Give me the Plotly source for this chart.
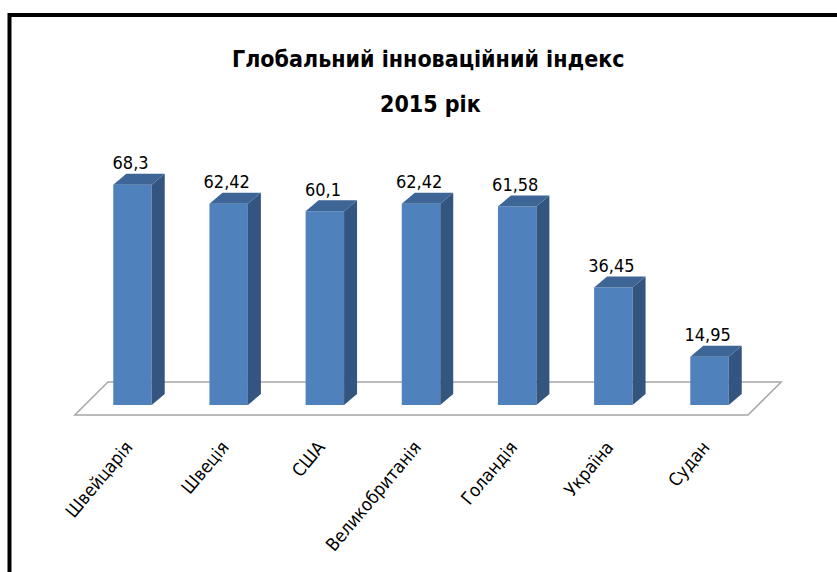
import plotly.graph_objects as go

categories = ["Швейцарія", "Швеція", "США", "Великобританія", "Голандія", "Україна", "Судан"]
values = [68.3, 62.42, 60.1, 62.42, 61.58, 36.45, 14.95]
value_labels = ["68,3", "62,42", "60,1", "62,42", "61,58", "36,45", "14,95"]
title_line1 = "Глобальний інноваційний індекс"
title_line2 = "2015 рік"

FONT = "Liberation Sans Narrow, DejaVu Sans Condensed, Arial Narrow, sans-serif"
FRONT = "#4f81bd"
SIDE = "#34557f"
TOP = "#3d6595"

n = len(categories)
xs = list(range(n))
bw = 0.40          # bar front width (x units)
ddx = 0.135        # depth offset x
ddy = 3.4          # depth offset y

fig = go.Figure()

# front faces
fig.add_trace(go.Bar(x=xs, y=values, width=bw, marker=dict(color=FRONT, line=dict(width=0)),
                     hoverinfo="skip", showlegend=False))

# side and top faces
for i, v in zip(xs, values):
    xr = i + bw / 2
    xl = i - bw / 2
    fig.add_trace(go.Scatter(x=[xr, xr + ddx, xr + ddx, xr, xr], y=[0, ddy, v + ddy, v, 0],
                             mode="lines", fill="toself", fillcolor=SIDE, line=dict(width=0),
                             hoverinfo="skip", showlegend=False))
    fig.add_trace(go.Scatter(x=[xl, xr, xr + ddx, xl + ddx, xl], y=[v, v, v + ddy, v + ddy, v],
                             mode="lines", fill="toself", fillcolor=TOP, line=dict(width=0),
                             hoverinfo="skip", showlegend=False))

# value labels
fig.add_trace(go.Scatter(x=[i - 0.02 for i in xs], y=[v + ddy for v in values], mode="text",
                         text=value_labels, textposition="top center",
                         textfont=dict(family=FONT, size=18, color="black"),
                         hoverinfo="skip", showlegend=False))

# floor
fl, fr = -0.6, n - 1 + 0.40
fy0, fy1 = -3.1, 7.13
fdx = 0.345
floor_path = f"M {fl},{fy0} L {fl+fdx},{fy1} L {fr+fdx},{fy1} L {fr},{fy0} Z"

L, R, T, B = 60, 37, 140, 140
W, H = 837, 572
pw, ph = W - L - R, H - T - B

def px(p):
    return (p - L) / pw

def py(p):
    return (H - B - p) / ph

shapes = [
    dict(type="path", path=floor_path, xref="x", yref="y", layer="below",
         line=dict(color="#a6a6a6", width=1.5), fillcolor="white"),
    dict(type="line", xref="paper", yref="paper", x0=px(9.5), x1=px(860), y0=py(15), y1=py(15),
         line=dict(color="black", width=4)),
    dict(type="line", xref="paper", yref="paper", x0=px(9.5), x1=px(9.5), y0=py(13), y1=py(600),
         line=dict(color="black", width=4)),
]

annotations = [
    dict(text=title_line1, xref="paper", yref="paper", x=px(428), y=py(59), showarrow=False,
         xanchor="center", yanchor="middle", font=dict(family=FONT, size=23, color="black", weight="bold")),
    dict(text=title_line2, xref="paper", yref="paper", x=px(430), y=py(104), showarrow=False,
         xanchor="center", yanchor="middle", font=dict(family=FONT, size=23, color="black", weight="bold")),
]

fig.update_layout(
    width=W, height=H,
    margin=dict(l=L, r=R, t=T, b=B),
    paper_bgcolor="white", plot_bgcolor="rgba(0,0,0,0)",
    shapes=shapes, annotations=annotations,
    showlegend=False,
    xaxis=dict(range=[(60 - 132.5) / 96.17, (800 - 132.5) / 96.17], tickvals=[i - 0.06 for i in xs],
               ticktext=categories, tickangle=-50, showgrid=False, zeroline=False, showline=False,
               ticks="", tickfont=dict(family=FONT, size=18, color="black")),
    yaxis=dict(range=[(405 - 432) / 3.225, (405 - 140) / 3.225], visible=False),
)

fig.write_html("out.html", config={"displayModeBar": False},
               post_script="document.body.style.margin='0';document.body.style.overflow='hidden';")
